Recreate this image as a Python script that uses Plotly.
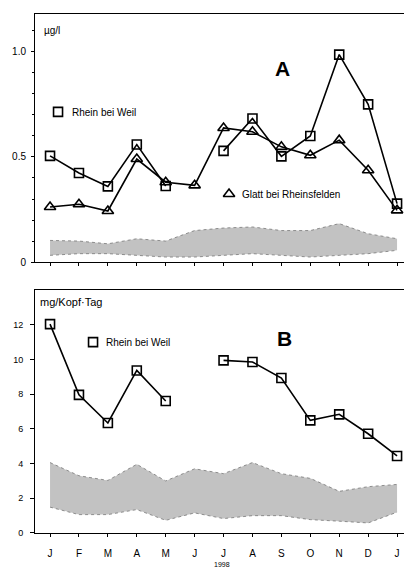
import plotly.graph_objects as go

months = ["J", "F", "M", "A", "M", "J", "J", "A", "S", "O", "N", "D", "J"]
xi = list(range(len(months)))

# Panel A (µg/l)
a_weil = [0.505, 0.424, 0.36, 0.559, 0.362, None, 0.529, 0.683, 0.503, 0.60, 0.987, 0.75, 0.278]
a_glatt = [0.262, 0.275, 0.243, 0.49, 0.38, 0.365, 0.638, 0.62, 0.548, 0.508, 0.58, 0.437, 0.246]
a_band_low = [0.032, 0.04, 0.04, 0.032, 0.024, 0.024, 0.032, 0.04, 0.032, 0.024, 0.032, 0.04, 0.056]
a_band_high = [0.103, 0.10, 0.087, 0.111, 0.10, 0.15, 0.162, 0.167, 0.15, 0.15, 0.183, 0.135, 0.111]

# Panel B (mg/Kopf·Tag)
b_weil = [12.04, 7.96, 6.34, 9.37, 7.61, None, 9.95, 9.86, 8.93, 6.49, 6.84, 5.72, 4.44]
b_band_low = [1.49, 1.06, 1.06, 1.35, 0.73, 1.16, 0.83, 1.0, 1.0, 0.77, 0.68, 0.58, 1.2]
b_band_high = [4.06, 3.3, 3.03, 3.96, 3.0, 3.7, 3.42, 4.06, 3.42, 3.15, 2.4, 2.67, 2.8]

FONT = "Liberation Sans, Arial, Helvetica, sans-serif"

fig = go.Figure()

def band(low, high, xa, ya):
    fig.add_trace(go.Scatter(x=xi, y=low, mode="lines", line=dict(width=0.8, color="#777777", dash="dot"),
                             xaxis=xa, yaxis=ya, showlegend=False, hoverinfo="skip"))
    fig.add_trace(go.Scatter(x=xi, y=high, mode="lines", line=dict(width=0.8, color="#777777", dash="dot"),
                             fill="tonexty", fillcolor="#c2c2c2",
                             xaxis=xa, yaxis=ya, showlegend=False, hoverinfo="skip"))

band(a_band_low, a_band_high, "x", "y")
band(b_band_low, b_band_high, "x2", "y2")

sq = dict(symbol="square-open", size=9, color="black", line=dict(width=1.6, color="black"))
tri = dict(symbol="triangle-up-open", size=10, color="black", line=dict(width=1.6, color="black"))

fig.add_trace(go.Scatter(x=xi, y=a_glatt, mode="lines+markers", line=dict(color="black", width=1.6),
                         marker=tri, xaxis="x", yaxis="y", showlegend=False))
fig.add_trace(go.Scatter(x=xi, y=a_weil, mode="lines+markers", line=dict(color="black", width=1.6),
                         marker=sq, xaxis="x", yaxis="y", showlegend=False, connectgaps=False))
fig.add_trace(go.Scatter(x=xi, y=b_weil, mode="lines+markers", line=dict(color="black", width=1.6),
                         marker=sq, xaxis="x2", yaxis="y2", showlegend=False, connectgaps=False))

xr = [-0.52, 12.24]
common_x = dict(range=xr, tickmode="array", tickvals=xi, showline=True, linecolor="black", linewidth=1,
                mirror=True, ticks="outside", ticklen=3, tickcolor="black", showgrid=False, zeroline=False,
                fixedrange=True)
fig.update_layout(
    width=404, height=568,
    margin=dict(l=35, r=0, t=14, b=35),
    paper_bgcolor="white", plot_bgcolor="white",
    font=dict(family=FONT, color="black", size=10),
    xaxis=dict(**common_x, ticktext=[""] * len(months), anchor="y", domain=[0, 1]),
    yaxis=dict(domain=[0.522, 1.0], range=[0, 1.18], tickvals=[0, 0.5, 1.0], ticktext=["0", "0.5", "1.0"],
               showline=True, linecolor="black", linewidth=1, ticks="outside", ticklen=3, tickcolor="black",
               minor=dict(dtick=0.1, ticks="outside", ticklen=2, tickcolor="black"),
               showgrid=False, zeroline=False, ticklabelstandoff=3, anchor="x", tickfont=dict(size=10)),
    xaxis2=dict(**common_x, ticktext=months, anchor="y2", domain=[0, 1], ticklabelstandoff=8,
                tickfont=dict(size=10)),
    yaxis2=dict(domain=[0, 0.468], range=[0, 14.0], tickvals=[0, 2, 4, 6, 8, 10, 12],
                showline=True, linecolor="black", linewidth=1, ticks="outside", ticklen=4, tickcolor="black",
                showgrid=False, zeroline=False, ticklabelstandoff=5, anchor="x2", tickfont=dict(size=9)),
)

ann = []
def txt(x, y, s, size=10, bold=False, xanchor="left"):
    ann.append(dict(x=x, y=y, xref="paper", yref="paper", text=("<b>%s</b>" % s) if bold else s,
                    showarrow=False, xanchor=xanchor, yanchor="middle",
                    font=dict(family=FONT, size=size, color="black")))

def px(xp):  # pixel -> paper x
    return (xp - 35) / 369.0
def py(yp):  # pixel -> paper y
    return (533 - yp) / 519.0

txt(px(42), py(31), "µg/l", size=10)
txt(px(282), py(69), "A", size=21, bold=True, xanchor="center")
txt(px(70), py(112), "Rhein bei Weil", size=10)
txt(px(240), py(194), "Glatt bei Rheinsfelden", size=10)
txt(px(38), py(302), "mg/Kopf·Tag", size=11)
txt(px(284), py(338), "B", size=21, bold=True, xanchor="center")
txt(px(104), py(342), "Rhein bei Weil", size=10)
txt(px(222), py(564), "1998", size=7, xanchor="center")
fig.update_layout(annotations=ann)

# legend symbols
fig.add_trace(go.Scatter(x=[(58 - 50) / 28.92], y=[(262 - 112) / 210.0], mode="markers", marker=sq,
                         xaxis="x", yaxis="y", showlegend=False, hoverinfo="skip"))
fig.add_trace(go.Scatter(x=[(229 - 50) / 28.92], y=[(262 - 194) / 210.0], mode="markers", marker=tri,
                         xaxis="x", yaxis="y", showlegend=False, hoverinfo="skip"))
fig.add_trace(go.Scatter(x=[(93 - 50) / 28.92], y=[(533 - 342) / 17.36], mode="markers", marker=sq,
                         xaxis="x2", yaxis="y2", showlegend=False, hoverinfo="skip"))

fig.write_html("out.html", config=dict(displayModeBar=False),
               post_script="document.body.style.margin='0';document.body.style.overflow='hidden';")
